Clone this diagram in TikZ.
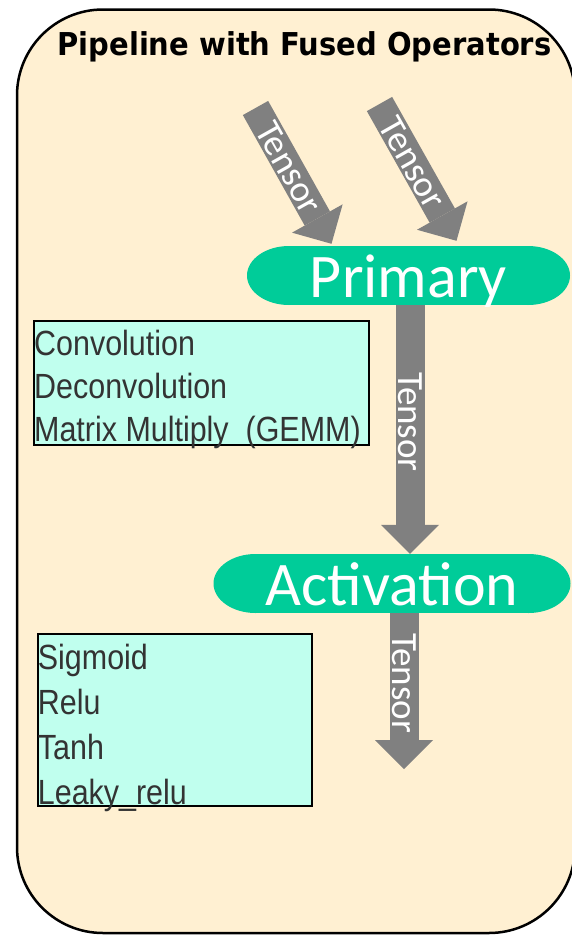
\documentclass[tikz,border=0pt]{standalone}
\usepackage{fontspec}
\setmainfont{Carlito}
\newfontfamily\titlefont[FakeStretch=0.92]{DejaVu Sans}
\newfontfamily\listfont[FakeStretch=0.87]{Liberation Sans}
\usetikzlibrary{arrows.meta}

\definecolor{panelcream}{HTML}{FFF0D2}
\definecolor{opgreen}{HTML}{00CC99}
\definecolor{listcyan}{HTML}{C0FFEE}
\definecolor{flowgray}{HTML}{808080}
\definecolor{listink}{HTML}{333333}

\begin{document}
\begin{tikzpicture}[x=1pt, y=-1pt,
        panel/.style={draw=black, line width=2.5pt, fill=panelcream, rounded corners=86pt},
        op/.style={minimum height=59pt, inner sep=0pt, text=white, text height=44pt, text depth=0pt,
            font=\fontsize{62}{62}\selectfont,
            path picture={
                \fill[opgreen] ([xshift=42pt]path picture bounding box.north west) rectangle ([xshift=-42pt]path picture bounding box.south east);
                \fill[opgreen] ([xshift=42pt]path picture bounding box.west) ellipse [x radius=42pt, y radius=29.5pt];
                \fill[opgreen] ([xshift=-42pt]path picture bounding box.east) ellipse [x radius=42pt, y radius=29.5pt];
            }},
        oplist/.style={draw=black, line width=2pt, fill=listcyan, anchor=north west, inner sep=0pt},
        listtext/.style={anchor=north west, inner sep=0pt, align=left, text=listink},
        flow/.style={flowgray, line width=29pt, -{Triangle[width=58pt, length=29pt, line width=0pt]}},
        tensor/.style={sloped, text=white, inner sep=0pt, font=\fontsize{37}{37}\selectfont}
    ]
    \useasboundingbox (0,0) rectangle (571,935);
    \path[panel] (17,9.5) rectangle (575,933);
    \node[anchor=base, font=\titlefont\bfseries\fontsize{31.5}{31.5}\selectfont] (title) at (304.5,55) {Pipeline with Fused Operators};

    \node[op, minimum width=323pt] (primary) at (408.5,275.5) {Primary};
    \node[op, minimum width=357pt] (activation) at (392,583.5) {Activation};

    \node[oplist, minimum width=335pt, minimum height=124pt] (primbox) at (33,319.5) {};
    \node[listtext, font=\listfont\fontsize{35}{43}\selectfont] (primlist) at ([shift={(1,10.5)}]primbox.north west) {Convolution\\Deconvolution\\Matrix Multiply~~(GEMM)};
    \node[oplist, minimum width=274pt, minimum height=172pt] (actbox) at (36.7,632.7) {};
    \node[listtext, font=\listfont\fontsize{35}{45}\selectfont] (actlist) at ([shift={(1,11)}]actbox.north west) {Sigmoid\\Relu\\Tanh\\Leaky\_relu};

    \coordinate (inA) at (255.5,108);
    \coordinate (inB) at (379.5,104);
    \coordinate (out) at (404,769);
    \draw[flow] (inA) -- ([xshift=-77pt, yshift=2pt]primary.north) node[tensor, pos=0.44] {Tensor};
    \draw[flow] (inB) -- ([xshift=48pt, yshift=5pt]primary.north) node[tensor, pos=0.43] {Tensor};
    \draw[flow] ([xshift=1.5pt]primary.south) -- ([xshift=1.5pt]primary.south |- activation.north) node[tensor, pos=0.47] {Tensor};
    \draw[flow] ([xshift=12pt]activation.south) -- (out) node[tensor, pos=0.45] {Tensor};
\end{tikzpicture}
\end{document}
